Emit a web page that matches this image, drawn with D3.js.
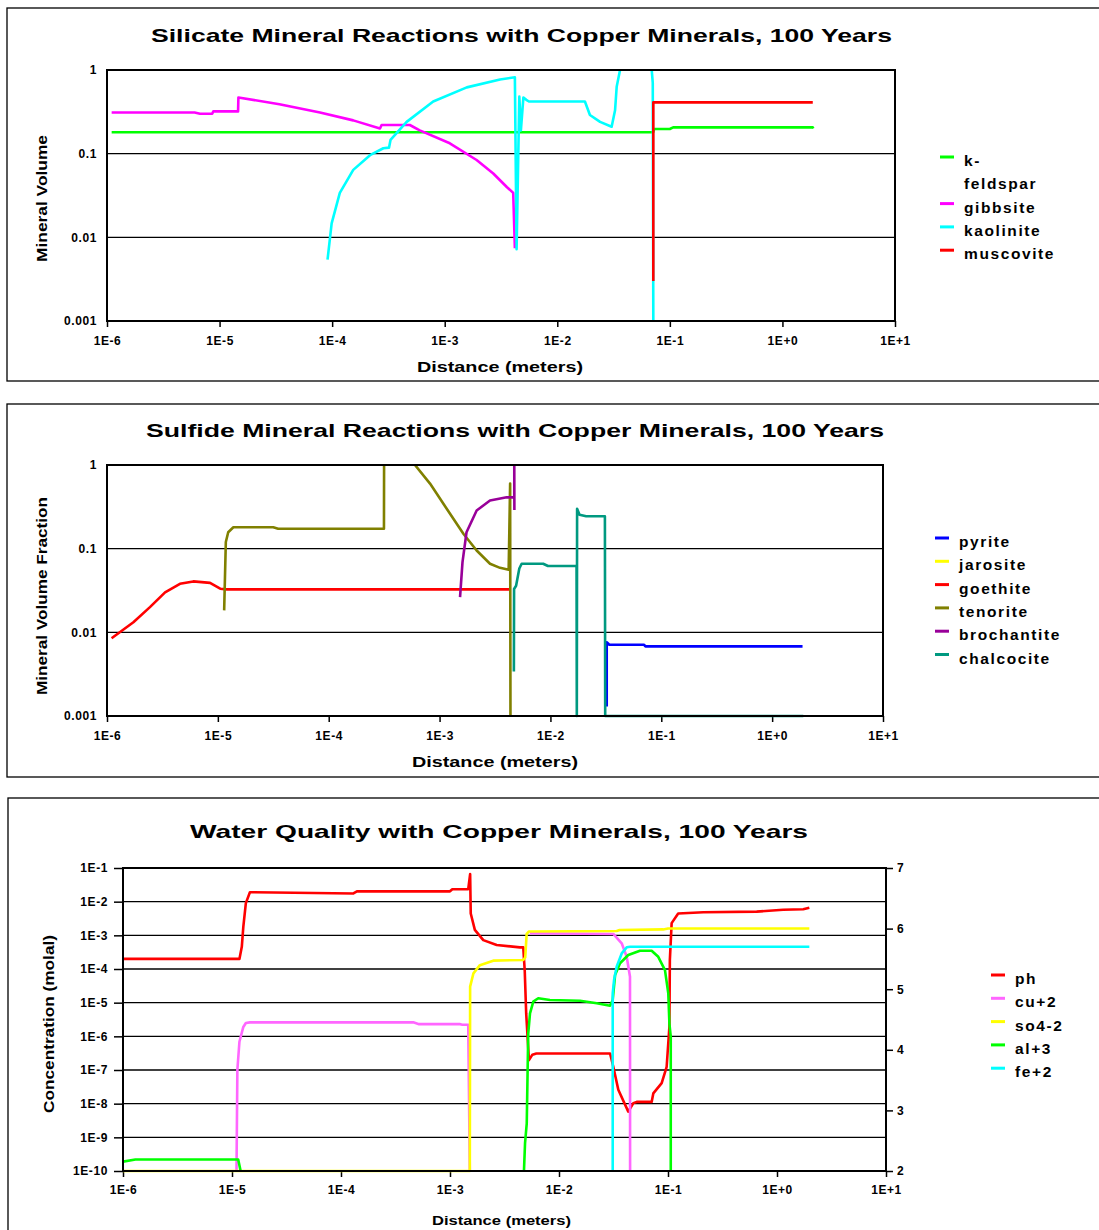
<!DOCTYPE html>
<html>
<head>
<meta charset="utf-8">
<script src="https://cdn.jsdelivr.net/npm/d3@7"></script>
<style>
  body { margin: 0; background: #fff; }
  text { font-family: "Liberation Sans", Arial, Helvetica, sans-serif; font-weight: bold; fill: #000; }
</style>
</head>
<body>
<script>
// ---- shared x axis (distance, m) ----
const distanceTicks  = [1e-6, 1e-5, 1e-4, 1e-3, 1e-2, 1e-1, 1, 10];
const distanceLabels = ['1E-6', '1E-5', '1E-4', '1E-3', '1E-2', '1E-1', '1E+0', '1E+1'];

// ---- chart 1 : silicate minerals (mineral volume) ----
const silicateNames  = ['k-feldspar', 'gibbsite', 'kaolinite', 'muscovite'];
const silicateColors = ['#00ff00', '#ff00ff', '#00ffff', '#ff0000'];
const volumeTicks  = [1, 0.1, 0.01, 0.001];
const volumeLabels = ['1', '0.1', '0.01', '0.001'];

const kFeldspar = [[1.1e-6,0.18],[0.071,0.18],[0.0725,0.197],[0.1,0.197],[0.107,0.206],[1.86,0.206],[1.88,0.2]];
const gibbsite = [[1.1e-6,0.31],[6.0e-6,0.31],[6.7e-6,0.30],[8.6e-6,0.30],[8.8e-6,0.32],[1.46e-5,0.32],[1.47e-5,0.47],
  [3.4e-5,0.39],[7.8e-5,0.31],[1.54e-4,0.25],[2.66e-4,0.20],[2.75e-4,0.22],[4.9e-4,0.22],[6.0e-4,0.19],
  [1.11e-3,0.133],[1.92e-3,0.084],[2.7e-3,0.058],[3.56e-3,0.040],[4.06e-3,0.034],[4.2e-3,0.0074]];
const kaolinite = [[9.1e-5,0.0054],[9.9e-5,0.0147],[1.17e-4,0.034],[1.54e-4,0.064],[2.17e-4,0.096],[2.85e-4,0.116],
  [3.2e-4,0.118],[3.3e-4,0.146],[4.59e-4,0.24],[7.9e-4,0.42],[1.57e-3,0.62],[3.1e-3,0.77],[4.2e-3,0.82],
  [4.35e-3,0.0072],[4.6e-3,0.48],[4.75e-3,0.19],[5.0e-3,0.47],[5.3e-3,0.44],[5.6e-3,0.42],[0.0176,0.42],
  [0.0195,0.29],[0.024,0.24],[0.0304,0.21],[0.0326,0.33],[0.0337,0.63],[0.0361,1.0],[0.038,1.6],
  [0.066,1.6],[0.069,1.0],[0.0705,0.7],[0.0713,0.001]];
const muscovite = [[0.0713,0.003],[0.0713,0.41],[0.073,0.41],[1.86,0.41]];

// ---- chart 2 : sulfide minerals (mineral volume fraction) ----
const sulfideNames  = ['pyrite', 'jarosite', 'goethite', 'tenorite', 'brochantite', 'chalcocite'];
const sulfideColors = ['#0000ff', '#ffff00', '#ff0000', '#808000', '#990099', '#009980'];

const pyrite = [[0.0322,0.0013],[0.0322,0.0076],[0.034,0.0071],[0.07,0.0071],[0.072,0.0068],[1.88,0.0068]];
const jarosite = [];
const goethite = [[1.1e-6,0.0085],[1.73e-6,0.0132],[2.44e-6,0.02],[3.34e-6,0.030],[4.55e-6,0.038],[6.0e-6,0.0406],
  [8.5e-6,0.039],[1.05e-5,0.0332],[1.2e-5,0.0326],[4.31e-3,0.0326]];
const tenorite = [[1.14e-5,0.0183],[1.18e-5,0.12],[1.24e-5,0.157],[1.38e-5,0.18],[3.16e-5,0.18],[3.5e-5,0.173],
  [3.15e-4,0.173],[3.16e-4,1.5],[5.8e-4,1.5],[6.0e-4,1.0],[8.2e-4,0.6],[1.16e-3,0.30],[1.64e-3,0.151],
  [2.16e-3,0.095],[2.85e-3,0.066],[3.51e-3,0.059],[4.2e-3,0.056],[4.33e-3,0.6],[4.36e-3,0.001]];
const brochantite = [[1.53e-3,0.0263],[1.61e-3,0.069],[1.75e-3,0.157],[2.16e-3,0.286],[2.85e-3,0.377],
  [4.03e-3,0.412],[4.5e-3,0.41],[4.72e-3,0.41],[4.72e-3,1.0],[4.73e-3,0.29]];
const chalcocite = [[4.68e-3,0.0034],[4.7e-3,0.033],[4.9e-3,0.036],[5.24e-3,0.058],[5.5e-3,0.066],[8.6e-3,0.066],
  [9.5e-3,0.062],[0.0172,0.062],[0.0173,0.001],[0.0174,0.3],[0.0183,0.254],[0.021,0.244],[0.031,0.244],
  [0.0312,0.001],[1.91,0.001]];

// ---- chart 3 : water quality (concentration, molal / pH) ----
const waterNames  = ['ph', 'cu+2', 'so4-2', 'al+3', 'fe+2'];
const waterColors = ['#ff0000', '#ff66ff', '#ffff00', '#00ff00', '#00ffff'];
const concTicks  = [1e-1,1e-2,1e-3,1e-4,1e-5,1e-6,1e-7,1e-8,1e-9,1e-10];
const concLabels = ['1E-1','1E-2','1E-3','1E-4','1E-5','1E-6','1E-7','1E-8','1E-9','1E-10'];
const phTicks = [2, 3, 4, 5, 6, 7];

const ph = [[1e-6,5.5],[1.17e-5,5.5],[1.23e-5,5.70],[1.27e-5,6.03],[1.34e-5,6.42],[1.46e-5,6.60],[1.3e-4,6.58],
  [1.4e-4,6.615],[1.0e-3,6.615],[1.05e-3,6.65],[1.47e-3,6.65],[1.53e-3,6.9],[1.55e-3,6.25],[1.69e-3,5.98],
  [2.02e-3,5.81],[2.68e-3,5.73],[4.38e-3,5.69],[4.7e-3,5.69],[4.85e-3,5.3],[5.0e-3,4.6],[5.3e-3,3.83],
  [5.7e-3,3.92],[6.2e-3,3.94],[0.0294,3.94],[0.0315,3.72],[0.035,3.34],[0.0432,2.98],[0.0481,3.12],
  [0.0516,3.14],[0.0708,3.14],[0.0733,3.28],[0.0875,3.45],[0.0972,3.72],[0.103,4.38],[0.104,5.48],
  [0.108,6.09],[0.124,6.25],[0.211,6.27],[0.651,6.28],[1.14,6.31],[1.74,6.32],[1.98,6.345]];
const cu2 = [[1.1e-5,1e-10],[1.12e-5,1e-7],[1.17e-5,6.9e-7],[1.27e-5,1.9e-6],[1.34e-5,2.5e-6],[1.46e-5,2.6e-6],
  [4.6e-4,2.6e-6],[5.2e-4,2.3e-6],[1.24e-3,2.3e-6],[1.3e-3,2.2e-6],[1.47e-3,2.2e-6],[1.52e-3,1e-10],[2e-3,null],
  [5.4e-3,1.15e-3],[0.0315,1.1e-3],[0.0376,5.8e-4],[0.0418,2.3e-4],[0.0448,5.9e-5],[0.0449,1e-10]];
const so4 = [[1e-6,1e-10],[1.52e-3,1e-10],[1.53e-3,3.0e-5],[1.64e-3,7.4e-5],[1.88e-3,1.3e-4],[2.49e-3,1.77e-4],
  [4.7e-3,1.86e-4],[4.9e-3,2.2e-4],[5.05e-3,1.1e-3],[5.3e-3,1.3e-3],[0.0338,1.35e-3],[0.036,1.44e-3],
  [0.0906,1.5e-3],[0.1,1.6e-3],[1.98,1.6e-3]];
const al3 = [[1e-6,1.9e-10],[1.3e-6,2.2e-10],[1.14e-5,2.2e-10],[1.2e-5,1e-10],[1e-4,null],
  [4.77e-3,1e-10],[4.88e-3,6.7e-10],[5.06e-3,2.6e-9],[5.22e-3,1.2e-6],[5.42e-3,4.8e-6],[5.81e-3,1.07e-5],
  [6.45e-3,1.35e-5],[8.26e-3,1.2e-5],[0.0156,1.14e-5],[0.0222,9.6e-6],[0.0294,8.1e-6],[0.0311,1.2e-5],
  [0.0327,6.6e-5],[0.0363,1.48e-4],[0.0432,2.6e-4],[0.0553,3.5e-4],[0.0708,3.5e-4],[0.0814,2.3e-4],
  [0.0938,9.3e-5],[0.1006,1.9e-5],[0.103,2.4e-6],[0.106,9.8e-7],[0.106,1e-10]];
const fe2 = [[0.0311,1e-10],[0.0311,1.9e-5],[0.032,4.7e-5],[0.0338,1.17e-4],[0.0376,2.9e-4],[0.0418,4.4e-4],
  [0.045,4.6e-4],[1.98,4.6e-4]];

const svg = d3.select('body').append('svg')
  .attr('width', 1099)
  .attr('height', 1230);

let clipId = 0;

function drawPanel(p) {
  let g = svg.append('g');

  // outer frame
  g.append('rect')
    .attr('x', p.box[0]).attr('y', p.box[1])
    .attr('width', p.box[2]).attr('height', p.box[3])
    .attr('fill', 'none').attr('stroke', '#000').attr('stroke-width', 1.3);

  let x = d3.scaleLog().domain([1e-6, 10]).range([p.left, p.right]);
  let y = d3.scaleLog().domain(p.yDomain).range([p.bottom, p.top]);
  let y2 = p.rightDomain ? d3.scaleLinear().domain(p.rightDomain).range([p.bottom, p.top]) : null;

  // grid
  g.selectAll('line.grid').data(p.grid).enter().append('line')
    .attr('x1', p.left).attr('x2', p.right)
    .attr('y1', d => y(d)).attr('y2', d => y(d))
    .attr('stroke', '#000').attr('stroke-width', 1.3);

  // x axis
  let xAxis = g.append('g')
    .attr('transform', 'translate(0,' + p.bottom + ')')
    .call(d3.axisBottom(x).tickValues(distanceTicks)
      .tickFormat((d, i) => distanceLabels[i]).tickSize(6).tickPadding(p.xPad));
  xAxis.select('.domain').remove();
  xAxis.selectAll('line').attr('stroke', '#000').attr('stroke-width', 1.5);
  xAxis.selectAll('text').style('font-size', p.tickFont + 'px').style('letter-spacing', '0.6px').attr('fill', '#000');

  // left axis
  let yAxis = g.append('g')
    .attr('transform', 'translate(' + p.left + ',0)')
    .call(d3.axisLeft(y).tickValues(p.yTicks)
      .tickFormat((d, i) => p.yLabels[i]).tickSize(p.yTickSize).tickPadding(p.yPad));
  yAxis.select('.domain').remove();
  yAxis.selectAll('line').attr('stroke', '#000').attr('stroke-width', 1.5);
  yAxis.selectAll('text').style('font-size', p.tickFont + 'px').style('letter-spacing', '0.6px').attr('fill', '#000');

  if (y2) {
    let rAxis = g.append('g')
      .attr('transform', 'translate(' + p.right + ',0)')
      .call(d3.axisRight(y2).tickValues(phTicks).tickFormat(d3.format('d')).tickSize(7).tickPadding(4));
    rAxis.select('.domain').remove();
    rAxis.selectAll('line').attr('stroke', '#000').attr('stroke-width', 1.5);
    rAxis.selectAll('text').style('font-size', p.tickFont + 'px').attr('fill', '#000');
  }

  // series
  let id = 'clip' + (clipId++);
  g.append('clipPath').attr('id', id).append('rect')
    .attr('x', p.left).attr('y', p.top)
    .attr('width', p.right - p.left).attr('height', p.bottom - p.top + 4);

  let lines = g.append('g').attr('clip-path', 'url(#' + id + ')');
  p.series.forEach((s, i) => {
    let ys = s.right ? y2 : y;
    let line = d3.line()
      .defined(d => d[1] != null)
      .x(d => x(d[0]))
      .y(d => ys(d[1]));
    if (s.data.length == 0) return;
    lines.append('path')
      .datum(s.data)
      .attr('d', line)
      .attr('fill', 'none')
      .attr('stroke', s.color)
      .attr('stroke-width', 2.6)
      .attr('stroke-linejoin', 'round');
  });

  // plot border
  g.append('rect')
    .attr('x', p.left).attr('y', p.top)
    .attr('width', p.right - p.left).attr('height', p.bottom - p.top)
    .attr('fill', 'none').attr('stroke', '#000').attr('stroke-width', 2);

  // titles
  g.append('text')
    .attr('x', p.title.x).attr('y', p.title.y)
    .attr('textLength', p.title.len).attr('lengthAdjust', 'spacingAndGlyphs')
    .style('font-size', '19px')
    .text(p.title.text);

  g.append('text')
    .attr('x', p.xTitle.x).attr('y', p.xTitle.y)
    .attr('textLength', p.xTitle.len).attr('lengthAdjust', 'spacingAndGlyphs')
    .style('font-size', p.xTitle.size + 'px')
    .text('Distance (meters)');

  g.append('text')
    .attr('transform', 'translate(' + p.yTitle.x + ',' + p.yTitle.y + ') rotate(-90)')
    .attr('textLength', p.yTitle.len).attr('lengthAdjust', 'spacingAndGlyphs')
    .style('font-size', '15px')
    .text(p.yTitle.text);

  // legend
  let row = 0;
  p.series.forEach(s => {
    let parts = (s.name.length > 9 && s.name.indexOf('-') > 0)
      ? [s.name.slice(0, s.name.indexOf('-') + 1), s.name.slice(s.name.indexOf('-') + 1)]
      : [s.name];
    let cy = p.legend.y0 + row * 23.3;
    g.append('line')
      .attr('x1', p.legend.x).attr('x2', p.legend.x + 14)
      .attr('y1', cy - 4).attr('y2', cy - 4)
      .attr('stroke', s.color).attr('stroke-width', 3);
    parts.forEach((t, k) => {
      g.append('text')
        .attr('x', p.legend.tx).attr('y', cy + 5 + k * 23.3)
        .style('font-size', p.legend.size + 'px')
        .style('letter-spacing', '1.6px')
        .text(t);
    });
    row += parts.length;
  });
}

drawPanel({
  box: [7, 8, 1110, 373],
  left: 107, right: 895, top: 70, bottom: 321,
  yDomain: [0.001, 1], yTicks: volumeTicks, yLabels: volumeLabels, grid: [0.1, 0.01],
  yTickSize: 0, yPad: 10, xPad: 9, tickFont: 12,
  title: { text: 'Silicate Mineral Reactions with Copper Minerals, 100 Years', x: 151, y: 42, len: 741 },
  xTitle: { x: 417, y: 372, len: 166, size: 15 },
  yTitle: { text: 'Mineral Volume', x: 47, y: 262, len: 127 },
  legend: { x: 940, tx: 964, y0: 161, size: 15.5 },
  series: silicateNames.map((n, i) => ({ name: n, color: silicateColors[i],
    data: [kFeldspar, gibbsite, kaolinite, muscovite][i] }))
});

drawPanel({
  box: [7, 404, 1110, 373],
  left: 107, right: 883, top: 465, bottom: 716,
  yDomain: [0.001, 1], yTicks: volumeTicks, yLabels: volumeLabels, grid: [0.1, 0.01],
  yTickSize: 0, yPad: 10, xPad: 9, tickFont: 12,
  title: { text: 'Sulfide Mineral Reactions with Copper Minerals, 100 Years', x: 146, y: 437, len: 738 },
  xTitle: { x: 412, y: 767, len: 166, size: 15 },
  yTitle: { text: 'Mineral Volume Fraction', x: 47, y: 695, len: 198 },
  legend: { x: 935, tx: 959, y0: 542, size: 15.5 },
  series: sulfideNames.map((n, i) => ({ name: n, color: sulfideColors[i],
    data: [pyrite, jarosite, goethite, tenorite, brochantite, chalcocite][i] }))
});

drawPanel({
  box: [8, 798, 1110, 450],
  left: 123, right: 886, top: 868, bottom: 1171,
  yDomain: [1e-10, 1e-1], yTicks: concTicks, yLabels: concLabels,
  grid: [1e-2, 1e-3, 1e-4, 1e-5, 1e-6, 1e-7, 1e-8, 1e-9],
  rightDomain: [2, 7],
  yTickSize: 9, yPad: 6, xPad: 8, tickFont: 12,
  title: { text: 'Water Quality with Copper Minerals, 100 Years', x: 190, y: 838, len: 618 },
  xTitle: { x: 432, y: 1225, len: 139, size: 13 },
  yTitle: { text: 'Concentration (molal)', x: 54, y: 1113, len: 178 },
  legend: { x: 991, tx: 1015, y0: 979, size: 15.5 },
  series: waterNames.map((n, i) => ({ name: n, color: waterColors[i], right: i == 0,
    data: [ph, cu2, so4, al3, fe2][i] }))
});
</script>
</body>
</html>
